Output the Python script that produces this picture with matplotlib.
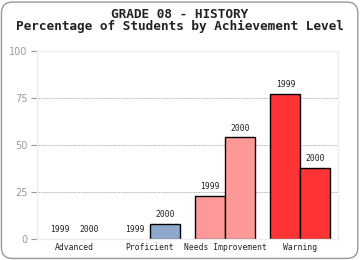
import numpy as np
import matplotlib
matplotlib.use("Agg")
import matplotlib.pyplot as plt
from matplotlib.patches import FancyBboxPatch

categories = ["Advanced", "Proficient", "Needs Improvement", "Warning"]
years = ["1999", "2000"]
vals_1999 = [0, 0, 23, 77]
vals_2000 = [0, 8, 54, 38]
colors = ["#8FA8CF", "#8FA8CF", "#FF9999", "#FF3333"]

fig = plt.figure(figsize=(3.6, 2.6), dpi=100)
fig.patch.set_facecolor("white")
frame = FancyBboxPatch((0.004, 0.006), 0.99, 0.986, boxstyle="round,pad=0,rounding_size=0.03",
                       transform=fig.transFigure, facecolor="white", edgecolor="#999999",
                       linewidth=1.0, mutation_aspect=360 / 260, zorder=-5)
fig.patches.append(frame)

fig.text(0.5, 0.945, "GRADE 08 - HISTORY", ha="center", va="center",
         family="DejaVu Sans Mono", weight="bold", fontsize=9.2, color="#222222")
fig.text(0.5, 0.898, "Percentage of Students by Achievement Level", ha="center", va="center",
         family="DejaVu Sans Mono", weight="bold", fontsize=9.2, color="#222222")

ax = fig.add_axes([37 / 360, 1 - 239 / 260, 301 / 360, 188 / 260])
ax.patch.set_alpha(0)
x = np.arange(len(categories))
w = 0.4
# zero-height bars get no outline
lw1 = [1 if v > 0 else 0 for v in vals_1999]
lw2 = [1 if v > 0 else 0 for v in vals_2000]
ax.bar(x - w / 2, vals_1999, w, color=colors, edgecolor="black", linewidth=lw1)
ax.bar(x + w / 2, vals_2000, w, color=colors, edgecolor="black", linewidth=lw2)

for i in range(len(categories)):
    ax.annotate(years[0], (x[i] - w / 2, vals_1999[i]), xytext=(0, 3.5), textcoords="offset points",
                ha="center", va="bottom", family="DejaVu Sans Mono", fontsize=5.8, color="#222222")
    ax.annotate(years[1], (x[i] + w / 2, vals_2000[i]), xytext=(0, 3.5), textcoords="offset points",
                ha="center", va="bottom", family="DejaVu Sans Mono", fontsize=5.8, color="#222222")

ax.set_xlim(-0.5, len(categories) - 0.5)
ax.set_ylim(0, 100)
ax.set_yticks([0, 25, 50, 75, 100])
ax.set_xticks(x)
ax.set_xticklabels(categories, family="DejaVu Sans Mono", fontsize=5.8, color="#222222")
ax.tick_params(axis="x", length=0, pad=3)
ax.tick_params(axis="y", length=4, color="#999999", labelcolor="#999999", labelsize=7, pad=3)
ax.set_axisbelow(True)
ax.grid(axis="y", linestyle=(0, (1, 1)), color="#999999", linewidth=0.6)
for s in ax.spines.values():
    s.set_color("#EEEEEE")
    s.set_linewidth(1)

fig.savefig("out.png", dpi=100)
